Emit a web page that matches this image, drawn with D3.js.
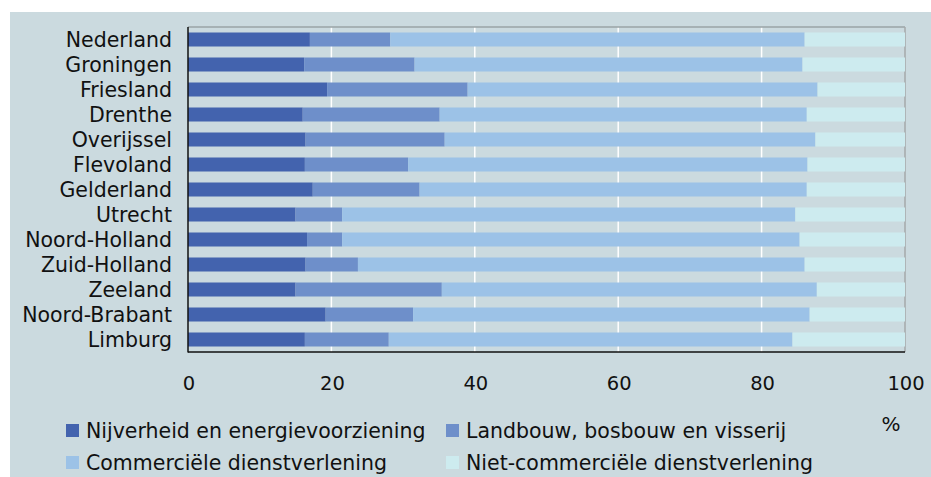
<!DOCTYPE html>
<html>
<head>
<meta charset="utf-8">
<script src="https://cdn.jsdelivr.net/npm/d3@7"></script>
<style>
  body { margin: 0; background: #fff; }
  svg text { font-family: "DejaVu Sans", Verdana, sans-serif; fill: #111; }
</style>
</head>
<body>
<svg width="931" height="477"></svg>
<script>
// regions, top to bottom
let regions = ['Nederland', 'Groningen', 'Friesland', 'Drenthe', 'Overijssel', 'Flevoland',
  'Gelderland', 'Utrecht', 'Noord-Holland', 'Zuid-Holland', 'Zeeland', 'Noord-Brabant', 'Limburg'];

let sectors = ['Nijverheid en energievoorziening', 'Landbouw, bosbouw en visserij',
  'Commerciële dienstverlening', 'Niet-commerciële dienstverlening'];

// shares in % per region
let nijverheid = [17.0, 16.2, 19.4, 16.0, 16.4, 16.3, 17.4, 15.0, 16.6, 16.4, 15.0, 19.2, 16.3];
let landbouw   = [11.2, 15.4, 19.6, 19.1, 19.4, 14.4, 14.9,  6.5,  4.9,  7.3, 20.4, 12.2, 11.7];
let commercieel = [57.8, 54.1, 48.8, 51.2, 51.7, 55.7, 54.0, 63.2, 63.8, 62.3, 52.3, 55.3, 56.3];
let nietCommercieel = [14.0, 14.3, 12.2, 13.7, 12.5, 13.6, 13.7, 15.3, 14.7, 14.0, 12.3, 13.3, 15.7];

let ticks = [0, 20, 40, 60, 80, 100];
let colors = ['#4363ae', '#6e8fca', '#9cc2e7', '#cdebef'];

let svg = d3.select('svg');
let W = 931, H = 477;

// background panel
svg.append('rect')
  .attr('x', 10).attr('y', 12)
  .attr('width', W - 10).attr('height', H - 12)
  .attr('fill', '#cbdadf');

let margin = { left: 188, right: 26, top: 27, bottom: 125 };
let plotW = W - margin.left - margin.right;
let plotH = H - margin.top - margin.bottom;

let x = d3.scaleLinear().domain([0, 100]).range([margin.left, margin.left + plotW]);
let y = d3.scaleBand().domain(regions).range([margin.top, margin.top + plotH]).paddingInner(0.44).paddingOuter(0.22);

let table = regions.map((r, i) => ({
  region: r,
  s0: nijverheid[i],
  s1: landbouw[i],
  s2: commercieel[i],
  s3: nietCommercieel[i]
}));

let stack = d3.stack().keys(['s0', 's1', 's2', 's3']);
let series = stack(table);

// vertical gridlines
svg.append('g')
  .selectAll('line')
  .data(ticks.slice(1, -1))
  .enter().append('line')
  .attr('x1', d => x(d)).attr('x2', d => x(d))
  .attr('y1', margin.top).attr('y2', margin.top + plotH)
  .attr('stroke', '#fff')
  .attr('stroke-width', 1.5);

// top and right borders
svg.append('line')
  .attr('x1', margin.left).attr('x2', x(100))
  .attr('y1', margin.top).attr('y2', margin.top)
  .attr('stroke', '#9aa3a6').attr('stroke-width', 1.5);
svg.append('line')
  .attr('x1', x(100)).attr('x2', x(100))
  .attr('y1', margin.top).attr('y2', margin.top + plotH)
  .attr('stroke', '#a5a9aa').attr('stroke-width', 1.5);

// bars
svg.append('g')
  .selectAll('g')
  .data(series)
  .enter().append('g')
  .attr('fill', (d, i) => colors[i])
  .selectAll('rect')
  .data(d => d)
  .enter().append('rect')
  .attr('x', d => x(d[0]))
  .attr('y', d => y(d.data.region))
  .attr('width', d => x(d[1]) - x(d[0]))
  .attr('height', y.bandwidth());

// axes lines
svg.append('line')
  .attr('x1', margin.left).attr('x2', margin.left)
  .attr('y1', margin.top).attr('y2', margin.top + plotH + 0.5)
  .attr('stroke', '#111').attr('stroke-width', 1.5);
svg.append('line')
  .attr('x1', margin.left).attr('x2', x(100))
  .attr('y1', margin.top + plotH).attr('y2', margin.top + plotH)
  .attr('stroke', '#111').attr('stroke-width', 1.5);

// category labels
svg.append('g')
  .selectAll('text')
  .data(regions)
  .enter().append('text')
  .attr('x', 172)
  .attr('y', d => y(d) + y.bandwidth() / 2)
  .attr('dy', '0.38em')
  .attr('text-anchor', 'end')
  .style('font-size', '20.5px')
  .text(d => d);

// tick labels
svg.append('g')
  .selectAll('text')
  .data(ticks)
  .enter().append('text')
  .attr('x', d => x(d) + 1)
  .attr('y', 390)
  .attr('text-anchor', 'middle')
  .style('font-size', '19.5px')
  .text(d => d);

svg.append('text')
  .attr('x', 891).attr('y', 431)
  .attr('text-anchor', 'middle')
  .style('font-size', '20px')
  .text('%');

// legend
let legendPos = [[66, 424], [446, 424], [66, 456], [446, 456]];
let legend = svg.append('g')
  .selectAll('g')
  .data(sectors)
  .enter().append('g')
  .attr('transform', (d, i) => `translate(${legendPos[i][0]},${legendPos[i][1]})`);

legend.append('rect')
  .attr('width', 13).attr('height', 13)
  .attr('fill', (d, i) => colors[i]);

legend.append('text')
  .attr('x', 20).attr('y', 14)
  .style('font-size', '20.5px')
  .text(d => d);
</script>
</body>
</html>
